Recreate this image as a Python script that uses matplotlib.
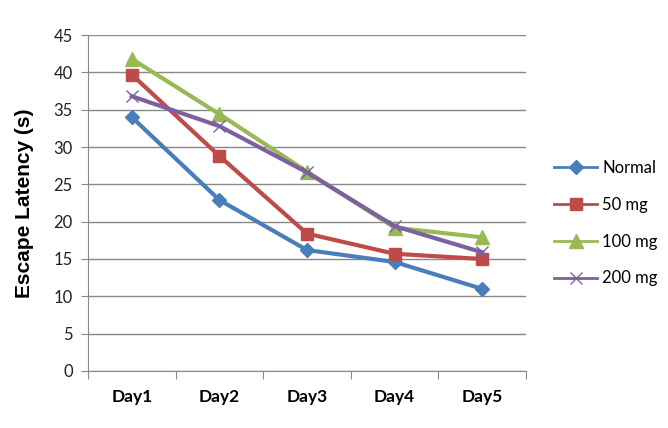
import matplotlib
matplotlib.use("Agg")
from matplotlib import pyplot as plt

days = ["Day1", "Day2", "Day3", "Day4", "Day5"]
normal = [34.0, 22.9, 16.2, 14.6, 11.0]
mg50 = [39.7, 28.8, 18.4, 15.7, 15.0]
mg100 = [41.8, 34.4, 26.7, 19.2, 17.9]
mg200 = [36.8, 32.8, 26.6, 19.4, 15.9]
yticks = [0, 5, 10, 15, 20, 25, 30, 35, 40, 45]

fig = plt.figure(figsize=(6.68, 4.28), dpi=100)
ax = fig.add_axes([0.1317, 0.1332, 0.6557, 0.785])

x = list(range(len(days)))
ax.plot(x, normal, marker='D', markersize=7, color='#4A7EBB', linewidth=3, label="Normal")
ax.plot(x, mg50, marker='s', markersize=9, color='#BE4B48', linewidth=3, label="50 mg")
ax.plot(x, mg100, marker='^', markersize=10, color='#98B954', linewidth=3, label="100 mg")
ax.plot(x, mg200, marker='x', markersize=9, markeredgewidth=1, color='#7D60A0', linewidth=3, label="200 mg")

ax.set_xlim(-0.5, 4.5)
ax.set_ylim(0, 45)
ax.set_yticks(yticks)
ax.set_yticklabels([str(v) for v in yticks], fontsize=12, family="Lato", color='#222222')
ax.yaxis.grid(True, color='#888888', linewidth=1)
ax.set_axisbelow(True)

ax.set_xticks([i - 0.5 for i in range(len(days) + 1)])
ax.set_xticklabels([])
ax.set_xticks(x, minor=True)
ax.set_xticklabels(days, minor=True, fontsize=12.5, fontweight='bold', family="Lato")
ax.tick_params(axis='x', which='minor', length=0, pad=13)
ax.tick_params(axis='x', which='major', length=6, color='#888888', direction='out')
ax.tick_params(axis='y', length=5, color='#888888', direction='out', pad=6)

for s in ['top', 'right']:
    ax.spines[s].set_visible(False)
for s in ['left', 'bottom']:
    ax.spines[s].set_color('#888888')

ax.set_ylabel("Escape Latency (s)", fontsize=15, fontweight='bold', family="Liberation Sans", labelpad=14)

leg = ax.legend(loc='center left', bbox_to_anchor=(1.03, 0.44), frameon=False,
                prop={'family': 'Lato', 'size': 12}, labelspacing=1.25,
                handlelength=2.6, handletextpad=0.3)
for h in leg.get_lines():
    h.set_linewidth(2)

fig.savefig("out.png", dpi=100)
